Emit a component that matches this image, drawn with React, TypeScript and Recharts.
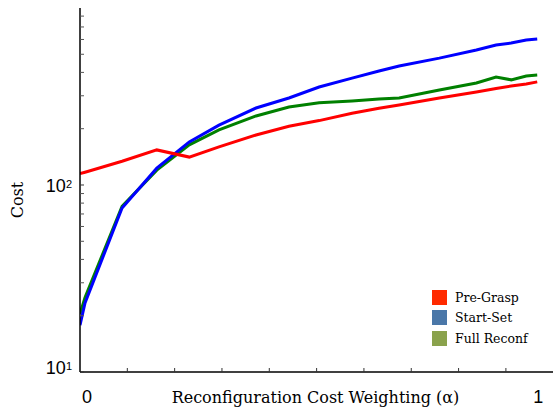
import { LineChart, Line, XAxis, YAxis, Legend } from 'recharts';

// alpha values where the curves were sampled
const alphas = [0, 0.011, 0.092, 0.168, 0.239, 0.304, 0.385, 0.457, 0.523, 0.595, 0.654, 0.698, 0.786, 0.867, 0.91, 0.943, 0.976, 1.0];

const preGrasp = [115, 117, 134, 154, 141, 160, 185, 206, 221, 242, 257, 268, 292, 314, 328, 338, 347, 356];
const startSet = [17.8, 23.4, 75.4, 123, 170, 209, 258, 292, 334, 373, 407, 433, 477, 527, 561, 574, 596, 604];
const fullReconf = [20.5, 25, 77, 120, 164, 197, 234, 261, 275, 281, 288, 292, 322, 351, 378, 365, 383, 387];

const seriesNames = ['Pre-Grasp', 'Start-Set', 'Full Reconf'];
const legendColors = ['#ff2a00', '#4a77a8', '#8aa24c'];

const xLabels = [0, 1];
const xMinorTicks = [0.1035, 0.207, 0.3105, 0.414, 0.5175, 0.621, 0.7245, 0.828, 0.9315];
const yMajorTicks = [10, 100];
const yMinorTicks = [20, 30, 40, 50, 60, 70, 80, 90, 200, 300, 400, 500, 600, 700, 800];

const data = alphas.map((a, i) => ({
  alpha: a,
  preGrasp: preGrasp[i],
  startSet: startSet[i],
  fullReconf: fullReconf[i],
}));

const sans = 'Liberation Sans, Arial, sans-serif';
const serif = 'DejaVu Serif, serif';

function XTick({ x, y, payload }: any) {
  const v = payload.value;
  if (xLabels.includes(v)) {
    return (
      <text x={x + (v === 0 ? 7 : 1)} y={y + 31} textAnchor="middle" fontFamily={sans} fontSize={18} fill="#000">
        {v}
      </text>
    );
  }
  return <line x1={x} x2={x} y1={y} y2={y - 4} stroke="#333" strokeWidth={1} />;
}

function LeftTick({ x, y, payload }: any) {
  const v = payload.value;
  if (yMajorTicks.includes(v)) {
    const exp = Math.round(Math.log10(v));
    return (
      <g>
        <line x1={x} x2={x + 4} y1={y} y2={y} stroke="#333" />
        <text x={x - 8} y={y + (v === 10 ? 2 : 7)} textAnchor="end" fontFamily={sans} fontSize={18} fill="#000">
          10
          <tspan dy={-4} fontSize={11}>{exp}</tspan>
        </text>
      </g>
    );
  }
  return <line x1={x} x2={x + 4} y1={y} y2={y} stroke="#555" />;
}

function RightTick({ x, y }: any) {
  return <line x1={x} x2={x - 4} y1={y} y2={y} stroke="#555" />;
}

function LegendBox() {
  return (
    <div style={{ fontFamily: serif, fontSize: 12.5, color: '#000' }}>
      {seriesNames.map((name, i) => (
        <div key={name} style={{ display: 'flex', alignItems: 'center', height: 20.5 }}>
          <span style={{ width: 15, height: 15, background: legendColors[i], marginRight: 8 }} />
          <span>{name}</span>
        </div>
      ))}
    </div>
  );
}

export default function App() {
  return (
    <div style={{ position: 'absolute', left: 0, top: 0, background: '#fff' }}>
      <LineChart width={555} height={410} data={data} margin={{ top: 8, right: 2, bottom: 0, left: 0 }}>
        <XAxis
          dataKey="alpha"
          type="number"
          domain={[0, 1.0345]}
          ticks={[...xLabels, ...xMinorTicks]}
          interval={0}
          allowDataOverflow
          height={38}
          tickSize={0}
          tickMargin={0}
          tickLine={false}
          tick={<XTick />}
          axisLine={{ stroke: '#000', strokeWidth: 1.5 }}
          label={({ viewBox }: any) => (
            <text
              x={viewBox.x + viewBox.width / 2 - 1}
              y={viewBox.y + 31}
              textAnchor="middle"
              fontFamily={serif}
              fontSize={16}
              fill="#000"
            >
              Reconfiguration Cost Weighting (α)
            </text>
          )}
        />
        <YAxis
          type="number"
          scale="log"
          domain={[10, 884]}
          allowDataOverflow
          ticks={[...yMajorTicks, ...yMinorTicks]}
          interval={0}
          width={80}
          tickSize={0}
          tickMargin={0}
          tickLine={false}
          tick={<LeftTick />}
          axisLine={{ stroke: '#000', strokeWidth: 1.5 }}
          label={({ viewBox }: any) => (
            <text
              x={17}
              y={viewBox.y + 192}
              textAnchor="middle"
              dominantBaseline="central"
              transform={`rotate(-90 17 ${viewBox.y + 192})`}
              fontFamily={serif}
              fontSize={16}
              fill="#000"
            >
              Cost
            </text>
          )}
        />
        <YAxis
          yAxisId="right"
          orientation="right"
          type="number"
          scale="log"
          domain={[10, 884]}
          allowDataOverflow
          ticks={yMinorTicks}
          interval={0}
          width={0}
          tickSize={0}
          tickMargin={0}
          tickLine={false}
          tick={<RightTick />}
          axisLine={{ stroke: '#000', strokeWidth: 1.5 }}
        />
        <Legend
          layout="vertical"
          align="center"
          verticalAlign="middle"
          content={<LegendBox />}
          wrapperStyle={{ left: 432, top: 287, width: 'auto' }}
        />
        <Line dataKey="fullReconf" name="Full Reconf" stroke="#008000" strokeWidth={3} dot={false} isAnimationActive={false} />
        <Line dataKey="startSet" name="Start-Set" stroke="#0000ff" strokeWidth={3} dot={false} isAnimationActive={false} />
        <Line dataKey="preGrasp" name="Pre-Grasp" stroke="#ff0000" strokeWidth={3} dot={false} isAnimationActive={false} />
      </LineChart>
    </div>
  );
}
